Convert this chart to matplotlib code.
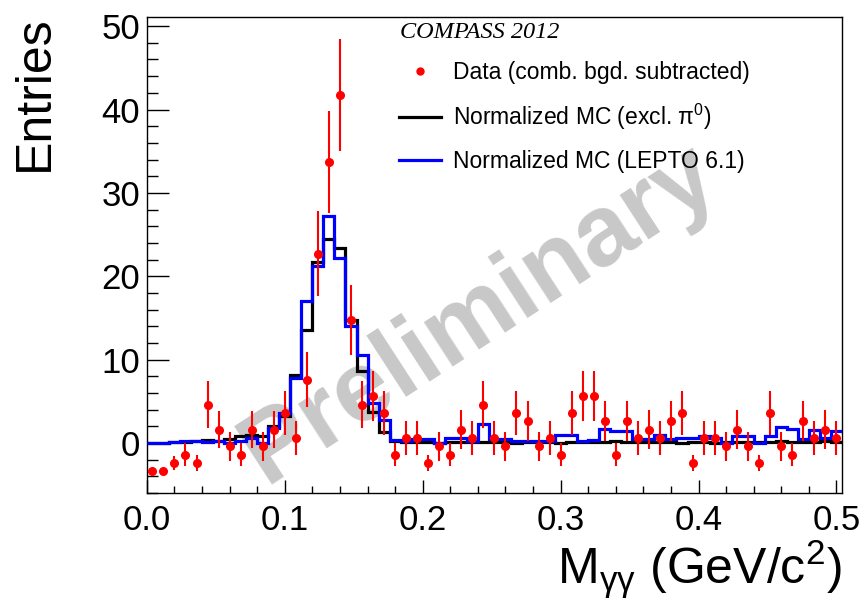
import numpy as np
import matplotlib
matplotlib.use("Agg")
import matplotlib.pyplot as plt
from matplotlib.lines import Line2D
from matplotlib.ticker import MultipleLocator, FormatStrFormatter

plt.rcParams["font.family"] = ["Liberation Sans", "DejaVu Sans"]
plt.rcParams["mathtext.fontset"] = "custom"
plt.rcParams["mathtext.rm"] = "Liberation Sans"

# 63 bins of 8 MeV from 0 to 0.504 GeV/c^2
bin_lo = 0.0
bin_hi = 0.504
n_bins = 63

# data (comb. bgd. subtracted), per bin
data_y = [-3.4, -3.4, -2.4, -1.4, -2.4, 4.6, 1.6, -0.4, -1.4, 1.6, -0.4, 1.6, 3.6, 0.6,
          7.6, 22.7, 33.7, 41.7, 14.7, 4.6, 5.6, 3.6, -1.4, 0.6, 0.6, -2.4, -0.4, -1.4,
          1.6, 0.6, 4.6, 0.6, -0.4, 3.6, 2.6, -0.4, 0.6, -1.4, 3.6, 5.6, 5.6, 2.6, -1.4,
          2.6, 0.6, 1.6, 0.6, 2.6, 3.6, -2.4, 0.6, 0.6, -0.4, 1.6, -0.4, -2.4, 3.6, -0.4,
          -1.4, 2.6, 0.6, 1.6, 0.6]
data_err = [0.3, 0.3, 0.8, 1.4, 1.0, 2.8, 2.2, 1.7, 1.4, 2.2, 1.7, 2.2, 2.6, 2.0,
            3.3, 5.1, 6.1, 6.7, 4.2, 2.8, 3.0, 2.6, 1.4, 2.0, 2.0, 1.0, 1.7, 1.4,
            2.3, 2.0, 2.8, 2.0, 1.7, 2.6, 2.4, 1.7, 2.0, 1.4, 2.6, 3.0, 3.0, 2.4, 1.4,
            2.4, 2.0, 2.3, 2.0, 2.4, 2.6, 1.0, 2.0, 2.0, 1.7, 2.3, 1.7, 1.0, 2.6, 1.7,
            1.4, 2.4, 2.0, 2.3, 2.0]

# normalized MC, excluding pi0
mc_excl = [0.0, 0.0, 0.1, 0.15, 0.2, 0.4, 0.3, 0.5, 0.9, 1.0, 0.9, 2.0, 3.3, 8.2,
           13.6, 21.7, 24.5, 23.4, 14.7, 8.6, 3.7, 1.3, 0.3, 0.1, 0.1, 0.1, 0.0, 0.1,
           0.1, 0.1, 0.1, 0.1, 0.1, 0.0, 0.1, 0.1, 0.1, 0.0, 0.1, 0.1, 0.1, 0.1, 0.3,
           0.1, 0.1, 0.1, 0.1, 0.1, 0.0, 0.1, 0.1, 0.0, 0.1, 0.1, 0.1, 0.1, 0.1, 0.2,
           0.1, 0.1, 0.1, 0.2, 0.1]

# normalized MC, LEPTO 6.1
mc_lepto = [0.0, 0.0, 0.1, 0.2, 0.2, 0.1, 0.2, 0.0, 0.3, 0.6, 0.0, 1.8, 3.6, 7.8,
            17.0, 21.2, 27.2, 22.2, 14.0, 10.6, 4.8, 2.8, 0.4, 0.2, 0.5, 0.5, 0.0, 0.6,
            0.6, 0.3, 2.3, 0.5, 0.5, 0.3, 0.3, 0.3, 0.3, 1.0, 1.0, 0.2, 0.4, 1.7, 1.5,
            1.5, 0.5, 0.5, 1.0, 0.5, 0.6, 0.6, 0.9, 0.6, 0.0, 0.9, 0.9, 0.0, 0.9, 1.9,
            1.7, 0.5, 1.6, 0.6, 1.4]

edges = np.linspace(bin_lo, bin_hi, n_bins + 1)
centers = 0.5 * (edges[:-1] + edges[1:])

fig = plt.figure(figsize=(8.64, 6.02), dpi=100)
ax = fig.add_axes([0.170, 0.181, 0.8045, 0.7908])

# watermark
ax.text(0.478, 0.375, "Preliminary", transform=ax.transAxes, rotation=33,
        ha="center", va="center", fontsize=72, fontweight="bold",
        color="#c8c8c8", zorder=0)

ax.stairs(mc_excl, edges, baseline=None, color="black", linewidth=2.3, zorder=2)
ax.stairs(mc_lepto, edges, baseline=None, color="#0000ff", linewidth=2.3, zorder=3)
ax.errorbar(centers, data_y, yerr=data_err, fmt="o", color="#ff0000",
            markersize=5.5, elinewidth=1.5, capsize=0, zorder=4)

ax.set_xlim(bin_lo, bin_hi)
ax.set_ylim(-6, 51.1)

ax.xaxis.set_major_locator(MultipleLocator(0.1))
ax.xaxis.set_minor_locator(MultipleLocator(0.02))
ax.xaxis.set_major_formatter(FormatStrFormatter("%.1f"))
ax.yaxis.set_major_locator(MultipleLocator(10))
ax.yaxis.set_minor_locator(MultipleLocator(2))
ax.tick_params(axis="both", which="both", direction="in", top=False, right=False,
               labelsize=25, width=1.0)
ax.tick_params(axis="x", which="major", length=9.5, pad=8)
ax.tick_params(axis="x", which="minor", length=5)
ax.tick_params(axis="y", which="major", length=16, pad=5)
ax.tick_params(axis="y", which="minor", length=8)
for s in ax.spines.values():
    s.set_linewidth(1.0)

ax.set_ylabel("Entries", fontsize=36, loc="top")
ax.yaxis.set_label_coords(-0.128, 1.004)
ax.set_xlabel(r"M$_{\mathregular{γγ}}$ (GeV/c$^{\mathregular{2}}$)", fontsize=36, loc="right")
ax.xaxis.set_label_coords(1.0, -0.095)

fig.text(400 / 864, 1 - 33 / 602, "COMPASS 2012", family="Liberation Serif",
         style="italic", fontsize=17.5, va="center", ha="left")

handles = [
    Line2D([], [], marker="o", linestyle="none", color="#ff0000", markersize=5),
    Line2D([], [], color="black", linewidth=2.3),
    Line2D([], [], color="#0000ff", linewidth=2.3),
]
labels = ["Data (comb. bgd. subtracted)",
          r"Normalized MC (excl. $\mathregular{π}^{\mathregular{0}}$)",
          "Normalized MC (LEPTO 6.1)"]
ax.legend(handles, labels, loc="upper left", bbox_to_anchor=(399 / 864, 1 - 61 / 602),
          bbox_transform=fig.transFigure, frameon=False, fontsize=16.5,
          handlelength=1.85, handletextpad=0.5, labelspacing=0.78, borderpad=0,
          borderaxespad=0)

fig.savefig("out.png", dpi=100)
